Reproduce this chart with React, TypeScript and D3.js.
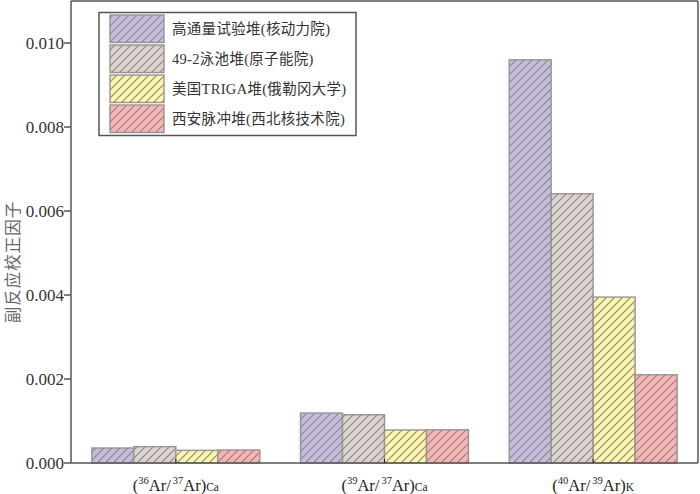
import React from "react";
import * as d3 from "d3";

const categories = ["g1", "g2", "g3"];
const seriesNames = [
  "高通量试验堆(核动力院)",
  "49-2泳池堆(原子能院)",
  "美国TRIGA堆(俄勒冈大学)",
  "西安脉冲堆(西北核技术院)",
];
const seriesColors = ["#c3bcdc", "#ddd4d0", "#fbf6a9", "#f9b5b5"];
const valuesHFETR = [0.000357, 0.00119, 0.0096];
const values492 = [0.00039, 0.00115, 0.00641];
const valuesTRIGA = [0.000302, 0.000786, 0.00395];
const valuesXAPR = [0.00031, 0.00079, 0.0021];
const seriesValues = [valuesHFETR, values492, valuesTRIGA, valuesXAPR];
const yTicks = [0, 0.002, 0.004, 0.006, 0.008, 0.01];
const xLabels = [
  { a: "36", b: "37", sub: "Ca" },
  { a: "39", b: "37", sub: "Ca" },
  { a: "40", b: "39", sub: "K" },
];
const yTitle = "副反应校正因子";

const W = 700;
const H = 494;
const left = 71;
const right = 698;
const top = 1;
const bottom = 463;
const serif = "'Liberation Serif', 'Times New Roman', 'Noto Sans CJK SC', serif";

export default function App() {
  const x = d3
    .scaleBand<string>()
    .domain(categories)
    .range([left, right])
    .paddingInner(0.195)
    .paddingOuter(0.1);
  const xs = d3
    .scaleBand<number>()
    .domain(d3.range(seriesNames.length))
    .range([0, x.bandwidth()]);
  const y = d3.scaleLinear().domain([0, 0.011]).range([bottom, top]);

  return (
    <svg
      width={W}
      height={H}
      style={{ position: "absolute", left: 0, top: 0, background: "#fff" }}
    >
      <defs>
        {seriesColors.map((c, i) => (
          <pattern
            key={i}
            id={`hatch${i}`}
            patternUnits="userSpaceOnUse"
            width={8}
            height={8}
          >
            <rect width={8} height={8} fill={c} />
            <path
              d="M-2,2 l4,-4 M0,8 l8,-8 M6,10 l4,-4"
              stroke="#8c8484"
              strokeWidth={1.1}
            />
          </pattern>
        ))}
      </defs>

      {/* bars */}
      {categories.map((cat, ci) =>
        seriesValues.map((vals, si) => {
          const bx = (x(cat) as number) + (xs(si) as number);
          const by = y(vals[ci]);
          return (
            <rect
              key={`${ci}-${si}`}
              x={bx}
              y={by}
              width={xs.bandwidth()}
              height={bottom - by}
              fill={`url(#hatch${si})`}
              stroke="#9a9292"
              strokeWidth={1.4}
            />
          );
        })
      )}

      {/* frame */}
      <line x1={left} x2={right} y1={top} y2={top} stroke="#555" strokeWidth={1.5} />
      <line x1={right} x2={right} y1={top} y2={bottom} stroke="#555" strokeWidth={1.5} />
      <line x1={left} x2={left} y1={top} y2={bottom} stroke="#555" strokeWidth={1.5} />
      <line x1={left} x2={right} y1={bottom} y2={bottom} stroke="#555" strokeWidth={1.5} />

      {/* y axis */}
      {yTicks.map((t) => (
        <g key={t}>
          <line x1={left - 7} x2={left} y1={y(t)} y2={y(t)} stroke="#555" strokeWidth={1.5} />
          <text
            x={left - 7}
            y={y(t)}
            dy="0.35em"
            textAnchor="end"
            fontFamily={serif}
            fontSize={17}
            fill="#333"
          >
            {t.toFixed(3)}
          </text>
        </g>
      ))}

      {/* x ticks and labels */}
      {categories.map((cat, i) => {
        const cx = (x(cat) as number) + x.bandwidth() / 2;
        const lb = xLabels[i];
        return (
          <g key={cat}>
            <line x1={cx} x2={cx} y1={bottom} y2={bottom - 4} stroke="#222" strokeWidth={1} />
            <text
              x={cx}
              y={491}
              textAnchor="middle"
              fontFamily={serif}
              fontSize={16.5}
              fill="#222"
            >
              <tspan>(</tspan>
              <tspan fontSize={10.5} dy={-7}>{lb.a}</tspan>
              <tspan dy={7}>Ar/</tspan>
              <tspan fontSize={10.5} dy={-7} dx={2}>{lb.b}</tspan>
              <tspan dy={7}>Ar)</tspan>
              <tspan fontSize={11.5}>{lb.sub}</tspan>
            </text>
          </g>
        );
      })}

      {/* y title */}
      <text
        transform={`translate(19, 262) rotate(-90)`}
        textAnchor="middle"
        fontFamily="'Noto Sans CJK SC', sans-serif"
        fontSize={16.5}
        letterSpacing={1}
        fill="#666"
      >
        {yTitle}
      </text>

      {/* legend */}
      <rect x={99} y={12.5} width={257} height={123} fill="#fff" stroke="#555" strokeWidth={1.5} />
      {seriesNames.map((name, i) => {
        const ly = 15 + i * 30;
        return (
          <g key={name}>
            <rect
              x={110}
              y={ly}
              width={54}
              height={27.5}
              fill={`url(#hatch${i})`}
              stroke="#9a9292"
              strokeWidth={1.4}
            />
            <text
              x={172}
              y={ly + 14}
              dy="0.35em"
              fontFamily={serif}
              fontSize={14.5}
              fill="#333"
              letterSpacing={0.3}
            >
              {name}
            </text>
          </g>
        );
      })}
    </svg>
  );
}
